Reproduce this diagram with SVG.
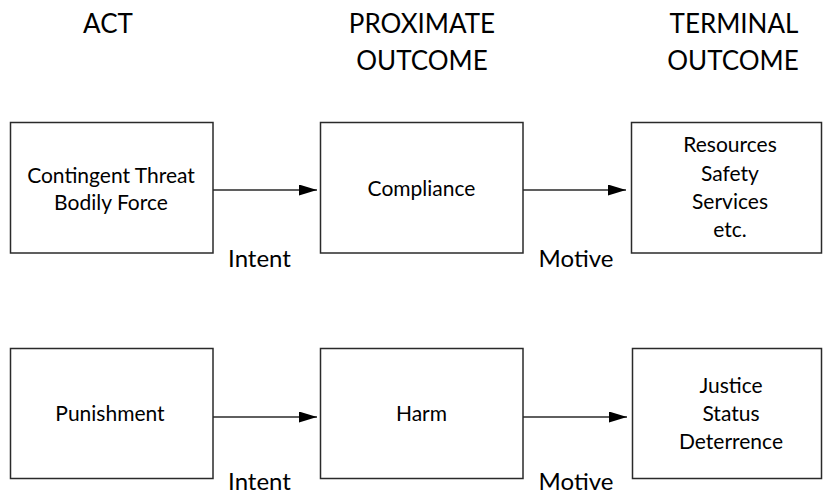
<svg xmlns="http://www.w3.org/2000/svg" width="823" height="495" viewBox="0 0 823 495">
<defs>
<style>
text{font-family:Lato,"Open Sans","Liberation Sans",sans-serif;fill:#000;text-anchor:middle}
.h{font-size:26px}
.b{font-size:21px}
.l{font-size:24px}
.box{fill:#fff;stroke:#2a2a2a;stroke-width:1.5}
.con{stroke:#2a2a2a;stroke-width:1.5;fill:none;marker-end:url(#ah)}
</style>
<marker id="ah" markerUnits="userSpaceOnUse" markerWidth="18" markerHeight="11" refX="18" refY="5.5" orient="auto">
<path d="M0,0 L18,5.5 L0,11 Z" fill="#000"/>
</marker>
</defs>
<rect width="823" height="495" fill="#fff"/>
<g id="headers">
<text class="h" x="108" y="33">ACT</text>
<text class="h" x="422" y="33">PROXIMATE</text>
<text class="h" x="422" y="70">OUTCOME</text>
<text class="h" x="734" y="33">TERMINAL</text>
<text class="h" x="733" y="70">OUTCOME</text>
</g>
<g id="act1">
<rect class="box" x="10.5" y="122.5" width="202.5" height="130.5"/>
<text class="b" x="111" y="183">Contingent Threat</text>
<text class="b" x="111" y="210">Bodily Force</text>
</g>
<g id="prox1">
<rect class="box" x="320.5" y="122.5" width="202.5" height="130.5"/>
<text class="b" x="421.5" y="196">Compliance</text>
</g>
<g id="term1">
<rect class="box" x="631.5" y="122.5" width="190" height="130.5"/>
<text class="b" x="730" y="152">Resources</text>
<text class="b" x="730" y="181">Safety</text>
<text class="b" x="730" y="209">Services</text>
<text class="b" x="730" y="237">etc.</text>
</g>
<g id="act2">
<rect class="box" x="10.5" y="348.5" width="202.5" height="130"/>
<text class="b" x="110" y="421">Punishment</text>
</g>
<g id="prox2">
<rect class="box" x="320.5" y="348.5" width="202.5" height="130"/>
<text class="b" x="421.5" y="421">Harm</text>
</g>
<g id="term2">
<rect class="box" x="632.5" y="348.5" width="189" height="130"/>
<text class="b" x="731" y="393">Justice</text>
<text class="b" x="731" y="421">Status</text>
<text class="b" x="731" y="449">Deterrence</text>
</g>
<g id="connectors">
<line class="con" x1="213" y1="190" x2="317" y2="190"/>
<line class="con" x1="523" y1="190" x2="626" y2="190"/>
<line class="con" x1="213" y1="417" x2="317" y2="417"/>
<line class="con" x1="523" y1="417" x2="627" y2="417"/>
<text class="l" x="259.5" y="267">Intent</text>
<text class="l" x="576" y="267">Motive</text>
<text class="l" x="259.5" y="490">Intent</text>
<text class="l" x="576" y="490">Motive</text>
</g>
</svg>
